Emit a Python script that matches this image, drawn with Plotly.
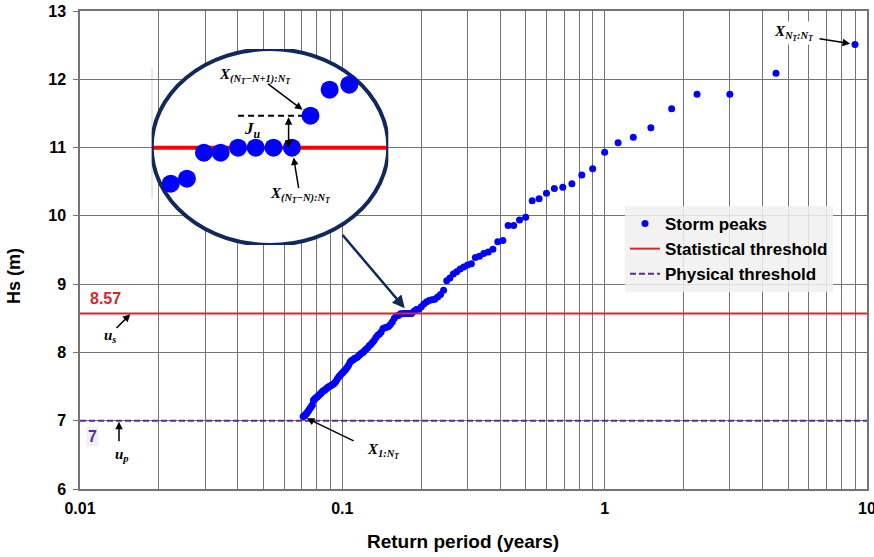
import numpy as np
import plotly.graph_objects as go

# storm peaks sorted from largest (rank 1) to smallest, with their return periods (years)
return_period = [
    9.0, 4.5, 3.0, 2.25, 1.8, 1.5, 1.2857, 1.125, 1.0, 0.9,
    0.8182, 0.75, 0.6923, 0.6429, 0.6, 0.5625, 0.5294, 0.5, 0.4737, 0.45,
    0.4286, 0.4091, 0.3913, 0.375, 0.36, 0.3462, 0.3333, 0.3214, 0.3103, 0.3,
    0.2903, 0.2813, 0.2727, 0.2647, 0.2571, 0.25, 0.2432, 0.2368, 0.2308, 0.225,
    0.2195, 0.2143, 0.2093, 0.2045, 0.2, 0.1957, 0.1915, 0.1875, 0.1837, 0.18,
    0.1765, 0.1731, 0.1698, 0.1667, 0.1636, 0.1607, 0.1579, 0.1552, 0.1525, 0.15,
    0.1475, 0.1452, 0.1429, 0.1406, 0.1385, 0.1364, 0.1343, 0.1324, 0.1304, 0.1286,
    0.1268, 0.125, 0.1233, 0.1216, 0.12, 0.1184, 0.1169, 0.1154, 0.1139, 0.1125,
    0.1111, 0.1098, 0.1084, 0.1071, 0.1059, 0.1047, 0.1034, 0.1023, 0.1011, 0.1,
    0.0989, 0.0978, 0.0968, 0.0957, 0.0947, 0.0938, 0.0928, 0.0918, 0.0909, 0.09,
    0.0891, 0.0882, 0.0874, 0.0865, 0.0857, 0.0849, 0.0841, 0.0833, 0.0826, 0.0818,
    0.0811, 0.0804, 0.0796, 0.0789, 0.0783, 0.0776, 0.0769, 0.0763, 0.0756, 0.075,
    0.0744, 0.0738, 0.0732, 0.0726, 0.072, 0.0714, 0.0709,
]
hs_peaks = [
    12.51, 12.09, 11.78, 11.78, 11.57, 11.29, 11.15, 11.07, 10.93, 10.69,
    10.60, 10.47, 10.42, 10.40, 10.33, 10.25, 10.22, 9.98, 9.94, 9.86,
    9.86, 9.64, 9.62, 9.51, 9.47, 9.45, 9.41, 9.39, 9.30, 9.28,
    9.25, 9.22, 9.18, 9.15, 9.09, 9.05, 8.91, 8.85, 8.81, 8.78,
    8.77, 8.76, 8.74, 8.71, 8.67, 8.633, 8.628, 8.602, 8.57, 8.57,
    8.57, 8.57, 8.565, 8.565, 8.539, 8.534, 8.50, 8.45, 8.41, 8.38,
    8.37, 8.36, 8.35, 8.30, 8.27, 8.25, 8.22, 8.18, 8.15, 8.12,
    8.10, 8.07, 8.05, 8.03, 8.00, 7.99, 7.97, 7.95, 7.93, 7.92,
    7.91, 7.89, 7.88, 7.86, 7.82, 7.79, 7.76, 7.74, 7.72, 7.70,
    7.68, 7.66, 7.64, 7.61, 7.58, 7.56, 7.54, 7.53, 7.52, 7.51,
    7.50, 7.49, 7.48, 7.46, 7.45, 7.44, 7.43, 7.41, 7.40, 7.38,
    7.37, 7.35, 7.34, 7.33, 7.31, 7.30, 7.23, 7.21, 7.19, 7.17,
    7.15, 7.13, 7.11, 7.10, 7.08, 7.07, 7.06,
]
assert len(return_period) == len(hs_peaks)

stat_threshold = 8.57
phys_threshold = 7.0
x_limits = [0.01, 10]

y_ticks = [6, 7, 8, 9, 10, 11, 12, 13]
x_grid = [0.01, 0.02, 0.03, 0.04, 0.05, 0.06, 0.07, 0.08, 0.09,
          0.1, 0.2, 0.3, 0.4, 0.5, 0.6, 0.7, 0.8, 0.9,
          1, 2, 3, 4, 5, 6, 7, 8, 9, 10]
x_tick_text = ["0.01"] + [""] * 8 + ["0.1"] + [""] * 8 + ["1"] + [""] * 8 + ["10"]

# zoomed inset: ranks 46..56 around the threshold
i_first, i_last = 45, 56
inset_T = return_period[i_first:i_last]
inset_hs = hs_peaks[i_first:i_last]
i_jump = 47      # X_(NT-N+1):NT
i_thr = 48       # X_(NT-N):NT
inset_xlog = [-0.8031, -0.6897]
inset_y = [8.4727, 8.6687]

W, H = 874, 557
PL, PR, PT, PB = 80, 867, 11, 489   # plot area in pixels
pw, ph = PR - PL, PB - PT


def px(x):
    return (x - PL) / pw


def py(y):
    return (PB - y) / ph


grid_col = "#747474"
navy = "#10295a"
red = "#d7262b"
purple = "#5b2c9b"
math_font = dict(family="Liberation Serif, DejaVu Serif, serif", size=15,
                 color="black", weight="bold", style="italic")


def label(text, x, y, font, **kw):
    return dict(text=text, xref="paper", yref="paper", x=px(x), y=py(y), xanchor="center",
                yanchor="middle", showarrow=False, font=font, **kw)


def arrow(xref, yref, x, y, ax, ay, **kw):
    d = dict(text="", xref=xref, yref=yref, x=x, y=y, ax=ax, ay=ay, showarrow=True,
             arrowhead=2, arrowsize=1, arrowwidth=1.5, arrowcolor="black")
    d.update(kw)
    return d


fig = go.Figure()
fig.add_trace(go.Scatter(x=return_period, y=hs_peaks, mode="markers", name="Storm peaks",
                         marker=dict(color="#0000ff", size=7)))
fig.add_trace(go.Scatter(x=x_limits, y=[stat_threshold] * 2, mode="lines",
                         name="Statistical threshold", line=dict(color=red, width=2)))
fig.add_trace(go.Scatter(x=x_limits, y=[phys_threshold] * 2, mode="lines",
                         name="Physical threshold",
                         line=dict(color=purple, width=2, dash="6px,3px")))
fig.add_trace(go.Scatter(x=inset_T, y=inset_hs, mode="markers", xaxis="x2", yaxis="y2",
                         showlegend=False, marker=dict(color="#0000ff", size=18)))

xl0, xl1 = 10 ** inset_xlog[0], 10 ** inset_xlog[1]
shapes = [
    dict(type="line", xref="paper", yref="paper", x0=px(152), x1=px(152), y0=py(68), y1=py(198),
         line=dict(color="#d0d0d0", width=1), layer="below"),
    dict(type="circle", xref="x2", yref="y2", x0=xl0, x1=xl1, y0=inset_y[0], y1=inset_y[1],
         fillcolor="white", line=dict(width=0), layer="below"),
    dict(type="line", xref="x2", yref="y2", x0=xl0, x1=xl1, y0=stat_threshold, y1=stat_threshold,
         line=dict(color="#ff0000", width=4), layer="below"),
    dict(type="line", xref="x2", yref="y2", x0=return_period[i_thr + 3], x1=return_period[i_jump],
         y0=hs_peaks[i_jump], y1=hs_peaks[i_jump],
         line=dict(color="black", width=2, dash="6px,4px"), layer="below"),
    dict(type="circle", xref="x2", yref="y2", x0=xl0, x1=xl1, y0=inset_y[0], y1=inset_y[1],
         line=dict(color=navy, width=4), layer="below"),
]

ann = [
    # axis titles
    label("<b>Hs (m)</b>", 14, 276, dict(size=18), textangle=-90),
    label("<b>Return period (years)</b>", 463, 541, dict(size=19)),
    # threshold values
    label("<b>8.57</b>", 105, 298, dict(size=16, color=red)),
    label("<b>7</b>", 92, 436, dict(size=16, color=purple), bgcolor="#f0f0f0"),
    # u_s and u_p
    label("u<sub>s</sub>", 110, 336, math_font),
    arrow("paper", "y", px(131), stat_threshold, -16, 16, standoff=1),
    label("u<sub>p</sub>", 122, 455, math_font),
    arrow("paper", "y", px(119), phys_threshold, 0, 22, standoff=1),
    # X_1:NT
    label("X<sub>1:N<sub>T</sub></sub>", 383, 451, math_font),
    arrow("x", "y", np.log10(return_period[-1]), hs_peaks[-1], 52, 25, standoff=4),
    # X_NT:NT
    label("X<sub>N<sub>T</sub>:N<sub>T</sub></sub>", 793, 33, math_font, bgcolor="white"),
    arrow("x", "y", np.log10(return_period[0]), hs_peaks[0], -37, -6, standoff=5),
    # connector from inset to data
    arrow("x", "y", np.log10(return_period[49]), hs_peaks[49], -68, -80, standoff=7,
          arrowwidth=2.5, arrowcolor=navy),
    # inset labels
    label("X<sub>(N<sub>T</sub>−N+1):N<sub>T</sub></sub>", 254, 76, math_font),
    arrow("x2", "y2", np.log10(return_period[i_jump]), hs_peaks[i_jump], -44, -33, standoff=10),
    label("X<sub>(N<sub>T</sub>−N):N<sub>T</sub></sub>", 300, 195, math_font),
    arrow("x2", "y2", np.log10(return_period[i_thr]), hs_peaks[i_thr], 7, 42, standoff=10),
    label("J<sub>u</sub>", 252, 130, dict(family="Liberation Serif, serif", size=17,
                                          color="black", weight="bold", style="italic")),
    arrow("x2", "y2", np.log10(return_period[i_thr]) - 0.0016, stat_threshold, 0,
          hs_peaks[i_jump], axref="pixel", ayref="y2", arrowside="end+start"),
]

fig.update_layout(
    width=W, height=H,
    margin=dict(l=PL, r=W - PR, t=PT, b=H - PB, autoexpand=False),
    paper_bgcolor="white", plot_bgcolor="rgba(0,0,0,0)",
    font=dict(family="Liberation Sans, Arial, sans-serif", color="black"),
    showlegend=True,
    legend=dict(x=px(625), y=py(206), xanchor="left", yanchor="top",
                bgcolor="rgba(240,240,240,0.85)", font=dict(size=17, weight="bold"),
                itemwidth=30),
    xaxis=dict(type="log", range=[-2, 1], tickvals=x_grid, ticktext=x_tick_text,
               showgrid=True, gridcolor=grid_col, gridwidth=1, showline=True,
               linecolor=grid_col, linewidth=1.5, mirror=True, ticks="", zeroline=False,
               automargin=False, ticklabeloverflow="allow",
               tickfont=dict(size=16, weight="bold"), ticklabelstandoff=4),
    yaxis=dict(range=[6, 13], tickvals=y_ticks, showgrid=True, gridcolor=grid_col, gridwidth=1,
               showline=True, linecolor=grid_col, linewidth=1.5, mirror=True, ticks="outside",
               ticklen=5, tickcolor=grid_col, zeroline=False, automargin=False,
               ticklabeloverflow="allow",
               tickfont=dict(size=16, weight="bold"), ticklabelstandoff=4),
    xaxis2=dict(type="log", domain=[px(151.7), px(388.3)], range=inset_xlog, visible=False,
                anchor="y2"),
    yaxis2=dict(domain=[py(245), py(49)], range=inset_y, visible=False, anchor="x2"),
    shapes=shapes,
    annotations=ann,
)

# drop the default body margin so the figure fills the window
fig.write_html("out.html", config={"displayModeBar": False},
               post_script="document.body.style.margin='0px';")
